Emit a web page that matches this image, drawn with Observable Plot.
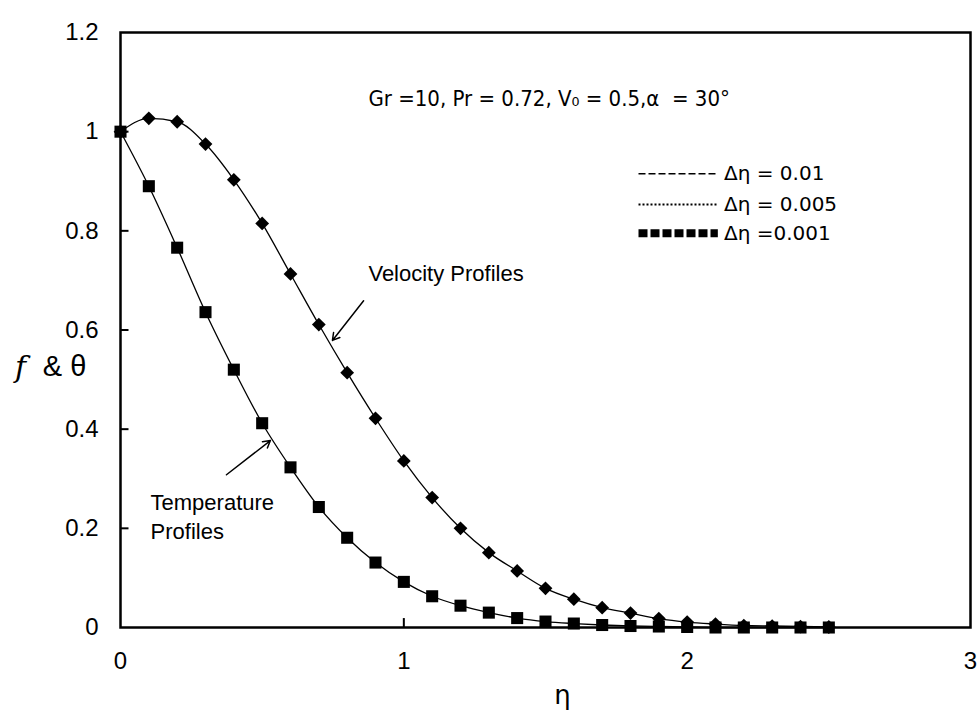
<!DOCTYPE html>
<html><head><meta charset="utf-8">
<script src="https://cdn.jsdelivr.net/npm/d3@7"></script>
<script src="https://cdn.jsdelivr.net/npm/@observablehq/plot@0.6"></script>
<style>body{margin:0;background:#fff;} svg{display:block}</style>
</head><body><div id="chart"></div>
<script>
// η grid (markers every 0.1)
const eta = [0,0.1,0.2,0.3,0.4,0.5,0.6,0.7,0.8,0.9,1.0,1.1,1.2,1.3,1.4,1.5,1.6,1.7,1.8,1.9,2.0,2.1,2.2,2.3,2.4,2.5];
// Velocity profile f (diamonds)
const velocity = [1.0,1.027,1.02,0.975,0.903,0.815,0.713,0.611,0.514,0.422,0.336,0.262,0.2,0.151,0.114,0.079,0.057,0.04,0.029,0.018,0.011,0.007,0.004,0.003,0.002,0.001];
// Temperature profile θ (squares)
const temperature = [1.0,0.89,0.766,0.636,0.52,0.412,0.323,0.243,0.181,0.131,0.092,0.063,0.044,0.03,0.019,0.012,0.008,0.005,0.003,0.002,0.001,0,0,0,0,0];

const xTicks = [0,1,2,3];
const yTicks = [0,0.2,0.4,0.6,0.8,1,1.2];
const legendLabels = ["Δη = 0.01","Δη = 0.005","Δη =0.001"];
const legendDash = ["7,3","2,2","9,3"];
const legendWidth = [1.5,2,8];
const legendY = [0.915,0.853,0.795];
const paramText = "Gr =10, Pr = 0.72, V\u2080 = 0.5,\u03b1  = 30\u00b0";
const velLabel = "Velocity Profiles";
const tempLabel = ["Temperature","Profiles"];

const vel = eta.map((x,i)=>({x, y: velocity[i]}));
const tem = eta.map((x,i)=>({x, y: temperature[i]}));
const legend = legendLabels.map((t,i)=>({t, y: legendY[i], dash: legendDash[i], w: legendWidth[i]}));

const font = "Liberation Sans, Arial, sans-serif";

const marks = [
  Plot.frame({stroke:"#000", strokeWidth:2.5}),
  Plot.axisX({ticks: xTicks, tickSize: 0, tickPadding: 24, tickFormat: d=>String(d), label: null}),
  Plot.axisY({ticks: yTicks, tickSize: 0, tickPadding: 22, tickFormat: d=>String(d), label: null}),
  Plot.ruleY(yTicks.slice(1,-1), {y: d=>d, x1: 0, x2: 0.03, stroke:"#000", strokeWidth:2}),
  Plot.ruleX(xTicks.slice(1,-1), {x: d=>d, y1: 0, y2: 0.018, stroke:"#000", strokeWidth:2}),
  Plot.line(vel, {x:"x", y:"y", curve:"monotone-x", stroke:"#000", strokeWidth:1.3}),
  Plot.line(tem, {x:"x", y:"y", curve:"monotone-x", stroke:"#000", strokeWidth:1.3}),
  Plot.dot(vel, {x:"x", y:"y", symbol:"diamond2", r:6.2, fill:"#000", stroke:"none"}),
  Plot.dot(tem, {x:"x", y:"y", symbol:"square", r:6.8, fill:"#000", stroke:"none"}),
  // legend
  ...legend.map(d => Plot.ruleY([d], {y:"y", x1: 1.83, x2: 2.11, stroke:"#000", strokeWidth: d.w, strokeDasharray: d.dash})),
  Plot.text(legend, {x: 2.13, y:"y", text:"t", textAnchor:"start", fontSize: 20, fontFamily: "DejaVu Sans, sans-serif", fill:"#000"}),
  // annotations
  Plot.text([paramText], {x: 0.875, y: 1.066, text: d=>d, textAnchor:"start", fontSize: 22, fontFamily: "DejaVu Sans Condensed, DejaVu Sans, sans-serif", fill:"#000"}),
  Plot.text([velLabel], {x: 0.875, y: 0.714, text: d=>d, textAnchor:"start", fontSize: 22, fill:"#000"}),
  Plot.arrow([{x1:0.858,y1:0.659,x2:0.748,y2:0.579}], {x1:"x1",y1:"y1",x2:"x2",y2:"y2", stroke:"#000", strokeWidth:1.5, headLength:8}),
  Plot.text([tempLabel[0]], {x: 0.106, y: 0.252, text: d=>d, textAnchor:"start", fontSize: 22, fill:"#000"}),
  Plot.text([tempLabel[1]], {x: 0.106, y: 0.192, text: d=>d, textAnchor:"start", fontSize: 22, fill:"#000"}),
  Plot.arrow([{x1:0.374,y1:0.308,x2:0.529,y2:0.377}], {x1:"x1",y1:"y1",x2:"x2",y2:"y2", stroke:"#000", strokeWidth:1.5, headLength:8}),
  // axis titles
  Plot.text(["η"], {frameAnchor:"bottom", dx: 17, dy: 76, text: d=>d, textAnchor:"middle", fontSize: 26, fontFamily:"DejaVu Sans, sans-serif", fill:"#000"}),
  Plot.text(["f"], {frameAnchor:"left", dx: -100, dy: 37, text: d=>d, textAnchor:"middle", fontSize: 30, fontStyle:"italic", fontFamily:"DejaVu Serif, serif", fill:"#000"}),
  Plot.text(["& θ"], {frameAnchor:"left", dx: -56, dy: 37, text: d=>d, textAnchor:"middle", fontSize: 29, fontFamily:"Liberation Sans, Arial, sans-serif", fill:"#000"})
];

const chart = Plot.plot({
  width: 978, height: 715,
  marginLeft: 120, marginRight: 8, marginTop: 32, marginBottom: 88,
  style: {fontFamily: font, fontSize: "24px", color:"#000", background:"#fff"},
  x: {domain:[0,3]},
  y: {domain:[0,1.2]},
  marks
});
document.getElementById("chart").append(chart);
</script>
</body></html>
